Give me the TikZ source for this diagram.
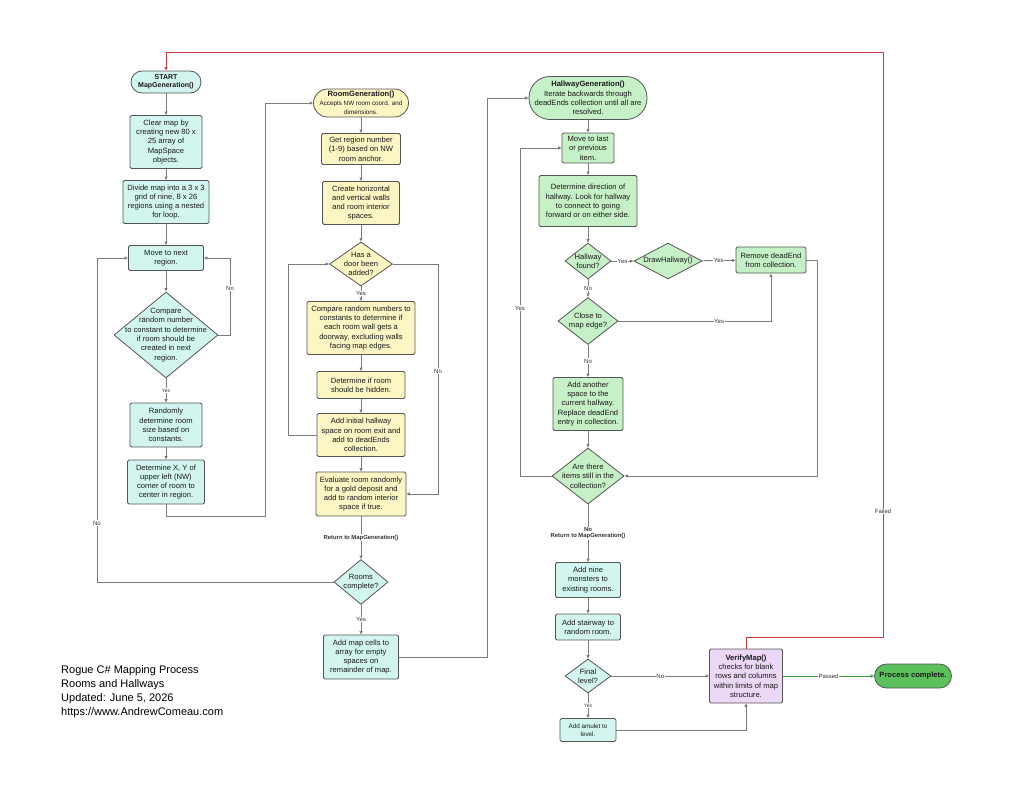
\documentclass[tikz,border=0pt]{standalone}
\usepackage{fontspec}
\setmainfont{Liberation Sans}
\usetikzlibrary{shapes.geometric,arrows.meta}

\definecolor{tealfill}{HTML}{D2F5F0}
\definecolor{yellowfill}{HTML}{FCF6C4}
\definecolor{greenfill}{HTML}{C6F0C6}
\definecolor{lilacfill}{HTML}{EBD8F7}
\definecolor{donefill}{HTML}{5CC05C}
\definecolor{edge}{HTML}{555555}
\definecolor{wire}{HTML}{7C7C7C}
\definecolor{failred}{HTML}{D03A3A}
\definecolor{passgreen}{HTML}{3A9A3A}
\newcommand\smalltxt{\fontsize{6.3}{7.6}\selectfont}

\begin{document}
\begin{tikzpicture}[x=1pt, y=-1pt,
    font=\fontsize{7.6}{9.3}\selectfont, text=black!90,
    box/.style={rectangle, draw=edge, line width=0.8pt, rounded corners=1.5pt, align=center, inner sep=0pt},
    decision/.style={diamond, draw=edge, line width=0.8pt, inner sep=0pt},
    flow/.style={draw=wire, line width=0.8pt, -{Triangle[length=3.5pt,width=3pt]}},
    lbl/.style={fill=white, inner sep=0.6pt, text=black!80, font=\fontsize{6}{6}\selectfont},
    dtxt/.style={align=center, font=\fontsize{7.6}{9.3}\selectfont}]
    \useasboundingbox (0,0) rectangle (1024,784);

    \node[box, fill=tealfill, rounded corners=11pt, minimum width=70, minimum height=22, font=\fontsize{7}{8.4}\selectfont\bfseries] (start) at (166,82) {START\\MapGeneration()};
    \node[box, fill=tealfill, minimum width=72, minimum height=53] (clear) at (166,142) {Clear map by\\creating new 80 x\\25 array of\\MapSpace\\objects.};
    \node[box, fill=tealfill, minimum width=86, minimum height=43] (divide) at (166,202) {Divide map into a 3 x 3\\grid of nine, 8 x 26\\regions using a nested\\for loop.};
    \node[box, fill=tealfill, minimum width=75, minimum height=25] (nextreg) at (166,258) {Move to next\\region.};
    \node[decision, fill=tealfill, minimum width=104, minimum height=86, label={[dtxt]center:{Compare\\random number\\to constant to determine\\if room should be\\created in next\\region.}}] (roomchk) at (166,335) {};
    \node[box, fill=tealfill, minimum width=72, minimum height=44] (roomsize) at (166,425) {Randomly\\determine room\\size based on\\constants.};
    \node[box, fill=tealfill, minimum width=77, minimum height=44] (corner) at (166,482) {Determine X, Y of\\upper left (NW)\\corner of room to\\center in region.};

    \node[box, fill=yellowfill, rounded corners=14pt, minimum width=95, minimum height=28] (roomgen) at (361,103) {\textbf{RoomGeneration()}\\[-1pt]\smalltxt Accepts NW room coord. and\\\smalltxt dimensions.};
    \node[box, fill=yellowfill, minimum width=79, minimum height=31] (region) at (361,149) {Get region number\\(1-9) based on NW\\room anchor.};
    \node[box, fill=yellowfill, minimum width=77, minimum height=43] (walls) at (361,203) {Create horizontal\\and vertical walls\\and room interior\\spaces.};
    \node[decision, fill=yellowfill, minimum width=63, minimum height=44, label={[dtxt]center:{Has a\\door been\\added?}}] (door) at (361,264) {};
    \node[box, fill=yellowfill, minimum width=108, minimum height=53] (doorway) at (361,328) {Compare random numbers to\\constants to determine if\\each room wall gets a\\doorway, excluding walls\\facing map edges.};
    \node[box, fill=yellowfill, minimum width=88, minimum height=27] (hidden) at (361,385) {Determine if room\\should be hidden.};
    \node[box, fill=yellowfill, minimum width=88, minimum height=43] (deadend) at (361,435) {Add initial hallway\\space on room exit and\\add to deadEnds\\collection.};
    \node[box, fill=yellowfill, minimum width=90, minimum height=44] (gold) at (361,494) {Evaluate room randomly\\for a gold deposit and\\add to random interior\\space if true.};
    \node[decision, fill=tealfill, minimum width=54, minimum height=45, label={[dtxt]center:{Rooms\\complete?}}] (roomsdone) at (361,582) {};
    \node[box, fill=tealfill, minimum width=75, minimum height=44] (cells) at (361,657) {Add map cells to\\array for empty\\spaces on\\remainder of map.};

    \node[box, fill=greenfill, rounded corners=21pt, minimum width=118, minimum height=43] (hallgen) at (588,98) {\textbf{HallwayGeneration()}\\Iterate backwards through\\deadEnds collection until all are\\resolved.};
    \node[box, fill=greenfill, minimum width=52, minimum height=30] (lastitem) at (588,148) {Move to last\\or previous\\item.};
    \node[box, fill=greenfill, minimum width=98, minimum height=51] (direction) at (588,201) {Determine direction of\\hallway. Look for hallway\\to connect to going\\forward or on either side.};
    \node[decision, fill=greenfill, minimum width=46, minimum height=36, label={[dtxt]center:{Hallway\\found?}}] (found) at (588,261) {};
    \node[decision, fill=greenfill, minimum width=68, minimum height=36, label={[dtxt]center:{DrawHallway()}}] (drawhall) at (668,261) {};
    \node[box, fill=greenfill, minimum width=70, minimum height=26] (remove) at (771,260) {Remove deadEnd\\from collection.};
    \node[decision, fill=greenfill, minimum width=60, minimum height=47, label={[dtxt]center:{Close to\\map edge?}}] (mapedge) at (588,321) {};
    \node[box, fill=greenfill, minimum width=70, minimum height=53] (extend) at (588,404) {Add another\\space to the\\current hallway.\\Replace deadEnd\\entry in collection.};
    \node[decision, fill=greenfill, minimum width=72, minimum height=56, label={[dtxt]center:{Are there\\items still in the\\collection?}}] (itemsleft) at (588,476) {};

    \node[box, fill=tealfill, minimum width=65, minimum height=35] (monsters) at (588,580) {Add nine\\monsters to\\existing rooms.};
    \node[box, fill=tealfill, minimum width=65, minimum height=26] (stairs) at (588,627) {Add stairway to\\random room.};
    \node[decision, fill=tealfill, minimum width=46, minimum height=34, label={[dtxt]center:{Final\\level?}}] (final) at (588,676) {};
    \node[box, fill=tealfill, minimum width=56, minimum height=23, font=\smalltxt] (amulet) at (588,730) {Add amulet to\\level.};
    \node[box, fill=lilacfill, minimum width=73, minimum height=54] (verify) at (746,676) {\textbf{VerifyMap()}\\checks for blank\\rows and columns\\within limits of map\\structure.};
    \node[box, fill=donefill, rounded corners=12pt, minimum width=77, minimum height=24, font=\fontsize{7.6}{9.3}\selectfont\bfseries] (done) at (913,676) {Process complete.};

    \node[anchor=north west, align=left, inner sep=0pt, text=black, font=\fontsize{11}{14}\selectfont] (title) at (61,665) {Rogue C\# Mapping Process\\Rooms and Hallways\\Updated: June 5, 2026\\https://www.AndrewComeau.com};

    \draw[flow] (start) -- (clear);
    \draw[flow] (clear) -- (divide);
    \draw[flow] (divide) -- (nextreg);
    \draw[flow] (nextreg) -- (roomchk);
    \draw[flow] (roomchk) -- (roomsize) node[lbl, midway, font=\fontsize{5}{5}\selectfont] {Yes};
    \draw[flow] (roomsize) -- (corner);
    \draw[flow] (roomchk.east) -| (230,258) -- (nextreg.east);
    \node[lbl] (nonext) at (230,288) {No};
    \draw[flow] (corner.south) |- (265,516) |- (roomgen.west);
    \draw[flow] (roomsdone.west) -| (97,258) -- (nextreg.west);
    \node[lbl] (nodone) at (97,523) {No};

    \draw[flow] (roomgen) -- (region);
    \draw[flow] (region) -- (walls);
    \draw[flow] (walls) -- (door);
    \draw[flow] (door) -- (doorway) node[lbl, midway] {Yes};
    \draw[flow] (doorway) -- (hidden);
    \draw[flow] (hidden) -- (deadend);
    \draw[flow] (deadend) -- (gold);
    \draw[flow] (deadend.west) -| (288,264) -- (door.west);
    \draw[flow] (door.east) -| (438,494) -- (gold.east);
    \node[lbl] (nodoor) at (438,371) {No};
    \draw[flow] (gold) -- (roomsdone) node[lbl, midway, font=\fontsize{5.9}{6}\selectfont\bfseries] {Return to MapGeneration()};
    \draw[flow] (roomsdone) -- (cells) node[lbl, midway] {Yes};
    \draw[flow] (cells.east) -| (487,98) -- (hallgen.west);

    \draw[flow] (hallgen) -- (lastitem);
    \draw[flow] (lastitem) -- (direction);
    \draw[flow] (direction) -- (found);
    \draw[flow] (found) -- (drawhall) node[lbl, midway] {Yes};
    \draw[flow] (drawhall) -- (remove) node[lbl, midway] {Yes};
    \draw[flow] (found) -- (mapedge) node[lbl, midway] {No};
    \draw[flow] (mapedge.east) -| (remove.south) node[lbl, pos=.33] {Yes};
    \draw[flow] (mapedge) -- (extend) node[lbl, midway] {No};
    \draw[flow] (extend) -- (itemsleft);
    \draw[flow] (remove.east) -| (817,476) -- (itemsleft.east);
    \draw[flow] (itemsleft.west) -| (520,148) -- (lastitem.west);
    \node[lbl] (yesleft) at (520,308) {Yes};
    \draw[flow] (itemsleft) -- (monsters) node[lbl, midway, align=center, font=\fontsize{5.9}{6}\selectfont\bfseries] {No\\Return to MapGeneration()};
    \draw[flow] (monsters) -- (stairs);
    \draw[flow] (stairs) -- (final);
    \draw[flow] (final) -- (amulet) node[lbl, midway, font=\fontsize{5}{5}\selectfont] {Yes};
    \draw[flow] (final) -- (verify) node[lbl, midway] {No};
    \draw[flow] (amulet.east) -| (verify.south);
    \draw[flow, draw=passgreen, line width=1pt] (verify) -- (done) node[lbl, midway] {Passed};
    \draw[flow, draw=failred, line width=1pt] (verify.north) |- (883,637) |- (166,53) -- (start.north);
    \node[lbl] (failed) at (883,511) {Failed};
\end{tikzpicture}
\end{document}
